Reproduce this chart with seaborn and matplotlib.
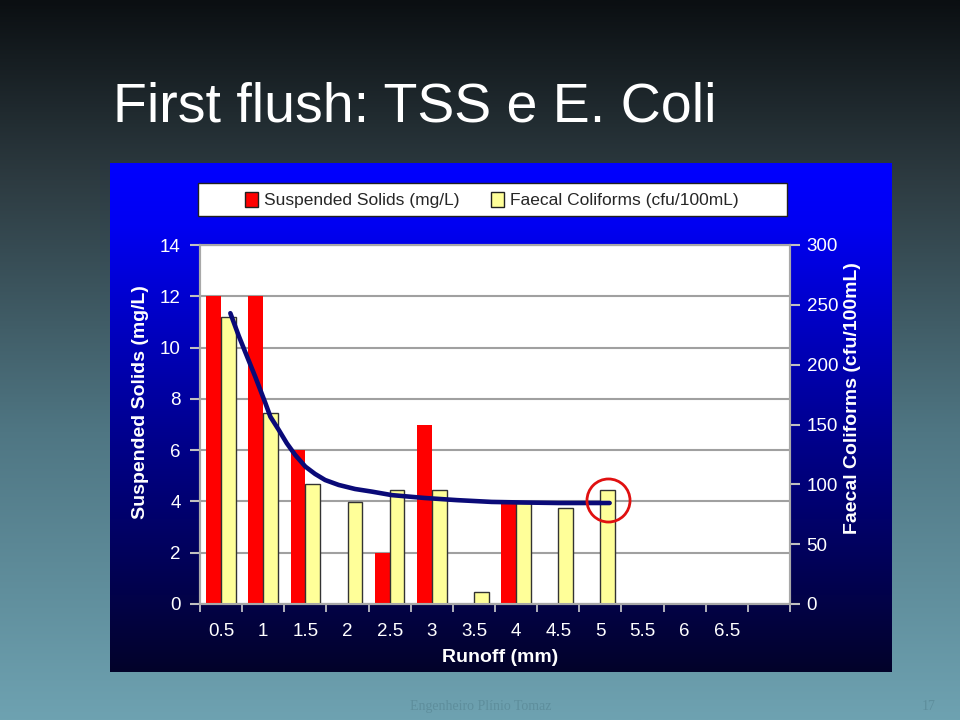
import numpy as np
import pandas as pd
import matplotlib
matplotlib.use("Agg")
import matplotlib.pyplot as plt
import seaborn as sns
from matplotlib.colors import LinearSegmentedColormap
from matplotlib.patches import Patch, Rectangle

# ---------------- data ----------------
runoff = ["0.5", "1", "1.5", "2", "2.5", "3", "3.5", "4", "4.5", "5", "5.5", "6", "6.5", ""]
suspended_solids = [12, 12, 6, 0, 2, 7, 0, 4, 0, 0, np.nan, np.nan, np.nan, np.nan]          # mg/L
faecal_coliforms = [240, 160, 100, 85, 95, 95, 10, 84, 80, 95, np.nan, np.nan, np.nan, np.nan]  # cfu/100mL

# trend curve drawn over the coliform bars (position in category units, cfu/100mL)
curve_pos = [0.22, 0.42, 0.58, 0.81, 1.05, 1.17, 1.37, 1.56, 1.76, 2.00, 2.23, 2.47, 2.79,
             3.18, 3.58, 4.05, 4.83, 5.60, 6.42, 7.20, 8.01, 9.22]
curve_fc = [243, 224, 210, 190, 168, 156.5, 145.4, 134.3, 124.5, 114.8, 108.7, 103.6, 99.5,
            96.1, 93.9, 91, 88.6, 86.8, 85.3, 84.8, 84.4, 84.4]

# highlighted point (red circle)
highlight_pos = [9.17]
highlight_fc = [87]

title = "First flush: TSS e E. Coli"
footer_left = "Engenheiro Plínio Tomaz"
footer_right = "17"

RED = "#ff0000"
YELLOW = "#ffff99"
NAVY = "#0a0a78"

sns.set_style("white")
plt.rcParams["font.family"] = ["Liberation Sans", "DejaVu Sans"]

df_ss = pd.DataFrame({"Runoff": runoff, "value": suspended_solids, "series": "SS"}).dropna()
df_fc = pd.DataFrame({"Runoff": runoff, "value": faecal_coliforms, "series": "FC"}).dropna()

W, H = 960, 720
fig = plt.figure(figsize=(9.6, 7.2), dpi=100)

# slide background gradient
bg = fig.add_axes([0, 0, 1, 1])
slide_cmap = LinearSegmentedColormap.from_list(
    "slide", [(0, "#0b0f12"), (0.25, "#2d3b41"), (0.6, "#4f7683"), (1, "#6ea2b1")])
bg.imshow(np.linspace(0, 1, 256).reshape(-1, 1), aspect="auto", cmap=slide_cmap,
          extent=[0, 1, 0, 1], origin="upper")
bg.set_xlim(0, 1); bg.set_ylim(0, 1); bg.axis("off")

# chart box gradient (blue)
box = fig.add_axes([110 / W, 1 - 672 / H, 782 / W, 509 / H])
box_cmap = LinearSegmentedColormap.from_list(
    "box", [(0, "#0000ff"), (0.12, "#0000f2"), (0.55, "#00008a"), (1, "#03032a")])
box.imshow(np.linspace(0, 1, 256).reshape(-1, 1), aspect="auto", cmap=box_cmap,
           extent=[0, 1, 0, 1], origin="upper")
box.set_xlim(0, 1); box.set_ylim(0, 1); box.axis("off")

# legend box
fig.patches.append(Rectangle((198 / W, 1 - 216 / H), 589 / W, 33 / H, transform=fig.transFigure,
                             facecolor="white", edgecolor="#202020", linewidth=1, zorder=5))

# main axes
rect = [200 / W, 1 - 604 / H, 590 / W, 359 / H]
ax = fig.add_axes(rect)
ax.set_facecolor("white")
ax.set_axisbelow(True)

sns.barplot(data=df_ss, x="Runoff", y="value", hue="series", hue_order=["SS", "FC"],
            order=runoff, palette={"SS": RED, "FC": YELLOW}, width=0.7, dodge=True,
            saturation=1, errorbar=None, linewidth=0, legend=False, ax=ax)

ax2 = ax.twinx()
sns.barplot(data=df_fc, x="Runoff", y="value", hue="series", hue_order=["SS", "FC"],
            order=runoff, palette={"SS": RED, "FC": YELLOW}, width=0.7, dodge=True,
            saturation=1, errorbar=None, edgecolor="#333333", linewidth=1, legend=False, ax=ax2)

ax.set_ylim(0, 14)
ax.set_yticks(range(0, 15, 2))
ax2.set_ylim(0, 300)
ax2.set_yticks(range(0, 301, 50))
ax.set_xlim(-0.5, len(runoff) - 0.5)

ax.yaxis.grid(True, color="#a0a0a0", linewidth=1.5)
ax.xaxis.grid(False)

for a in (ax, ax2):
    for s in a.spines.values():
        s.set_color("#a8a8a8")
        s.set_linewidth(1.5)

TICK_FS = 13.5
ax.tick_params(axis="y", which="major", left=True, length=7, width=1.5, color="#c0c0c0",
               labelcolor="white", labelsize=TICK_FS, pad=7, direction="out")
ax2.tick_params(axis="y", which="major", right=True, length=7, width=1.5, color="#c0c0c0",
                labelcolor="white", labelsize=TICK_FS, pad=5, direction="out")
ax.set_xticks(np.arange(-0.5, len(runoff), 1.0), minor=True)
ax.tick_params(axis="x", which="major", length=0, labelcolor="white", labelsize=TICK_FS, pad=14)
ax.tick_params(axis="x", which="minor", bottom=True, length=6, width=1.2, color="#d0d0d0",
               direction="out")

ax.set_xlabel("Runoff (mm)", color="white", fontsize=14, fontweight="bold", labelpad=6)
ax.set_ylabel("Suspended Solids (mg/L)", color="white", fontsize=14, fontweight="bold", labelpad=8)
ax2.set_ylabel("Faecal Coliforms (cfu/100mL)", color="white", fontsize=14, fontweight="bold",
               labelpad=4)
ax.xaxis.label.set_x(0.508)
ax.yaxis.label.set_y(0.563)
ax2.yaxis.label.set_y(0.574)

# overlay for trend curve and highlight circle
ax3 = fig.add_axes(rect)
ax3.set_xlim(-0.5, len(runoff) - 0.5)
ax3.set_ylim(0, 300)
ax3.patch.set_alpha(0)
ax3.axis("off")
sns.lineplot(x=curve_pos, y=curve_fc, sort=False, color=NAVY, linewidth=3.3, ax=ax3)
ax3.plot(highlight_pos, highlight_fc, marker="o", markersize=31, markerfacecolor="none",
         markeredgecolor="#e01010", markeredgewidth=2, linestyle="none")

# legend
handles = [Patch(facecolor=RED, edgecolor="#202020", label="Suspended Solids (mg/L)"),
           Patch(facecolor=YELLOW, edgecolor="#202020", label="Faecal Coliforms (cfu/100mL)")]
leg = fig.legend(handles=handles, loc="center", bbox_to_anchor=(0.512, 1 - 200 / H), ncol=2,
                 frameon=False, fontsize=12.5, handlelength=0.75, handleheight=1.0,
                 handletextpad=0.35, columnspacing=1.8)
leg.set_zorder(6)

# title and footer
fig.text(113 / W, 1 - 122 / H, title, color="white", fontsize=40, ha="left", va="baseline")
fig.text(410 / W, 1 - 710 / H, footer_left, color="#5e8e9c", fontsize=10, ha="left",
         va="baseline", family=["Liberation Serif", "DejaVu Serif"])
fig.text(936 / W, 1 - 710 / H, footer_right, color="#5e8e9c", fontsize=10, ha="right",
         va="baseline", family=["Liberation Serif", "DejaVu Serif"])

fig.savefig("out.png", dpi=100)
